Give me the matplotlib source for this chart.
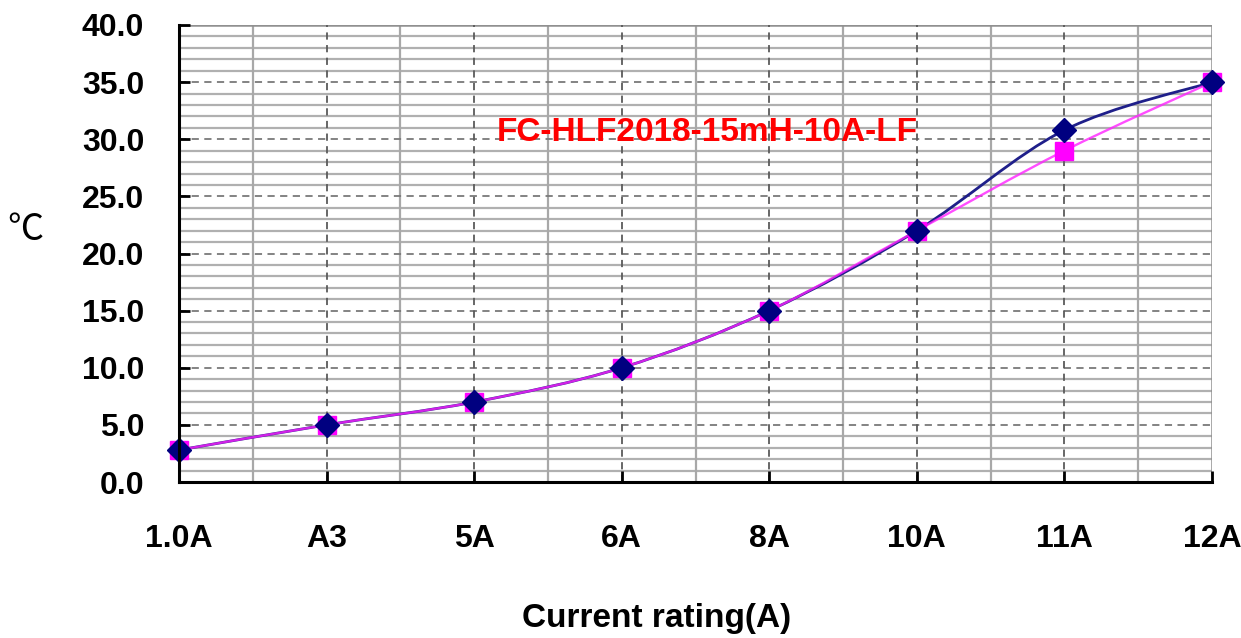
import numpy as np
import matplotlib.pyplot as plt
from matplotlib.path import Path
from matplotlib.patches import PathPatch

plt.rcParams['font.family'] = ['Liberation Sans', 'DejaVu Sans']

categories = ["1.0A", "A3", "5A", "6A", "8A", "10A", "11A", "12A"]
temp_a = [2.8, 5.0, 7.0, 10.0, 15.0, 22.0, 30.8, 35.0]
temp_b = [2.8, 5.0, 7.0, 10.0, 15.0, 22.0, 29.0, 35.0]
y_ticks = [0, 5, 10, 15, 20, 25, 30, 35, 40]
y_labels = [f"{v:.1f}" for v in y_ticks]
chart_title = "FC-HLF2018-15mH-10A-LF"


def smooth_path(xs, ys):
    # Excel 式の平滑線 (Catmull-Rom を3次ベジェで描く)
    pts = np.column_stack([xs, ys]).astype(float)
    n = len(pts)
    verts = [pts[0]]
    codes = [Path.MOVETO]
    for i in range(n - 1):
        p0 = pts[max(i - 1, 0)]
        p1 = pts[i]
        p2 = pts[i + 1]
        p3 = pts[min(i + 2, n - 1)]
        c1 = p1 + (p2 - p0) / 6.0
        c2 = p2 - (p3 - p1) / 6.0
        verts += [c1, c2, p2]
        codes += [Path.CURVE4] * 3
    return Path(verts, codes)


fig = plt.figure(figsize=(12.41, 6.38), dpi=100)
ax = fig.add_axes([179 / 1241, 1 - 482 / 638, 1033 / 1241, 457 / 638])

x = np.arange(len(categories))

# グリッド
for v in np.arange(1, 40, 1):
    if v % 5 == 0:
        continue
    ax.axhline(v, color="#b0b0b0", lw=1.6, zorder=1)
for v in y_ticks[1:-1]:
    ax.axhline(v, color="#7a7a7a", lw=1.3, ls=(0, (4, 3)), zorder=1.5)
ax.axhline(40, color="#909090", lw=1.8, zorder=1.5)
for v in x[:-1] + 0.5:
    ax.axvline(v, color="#a8a8a8", lw=1.6, zorder=1)
for v in x[1:-1]:
    ax.axvline(v, color="#5a5a5a", lw=1.3, ls=(0, (4, 3)), zorder=1.5)
ax.axvline(x[-1], color="#909090", lw=1.8, zorder=1.5)

ax.add_patch(PathPatch(smooth_path(x, temp_a), facecolor="none",
                       edgecolor="#1f1f8a", lw=2.0, zorder=3))
ax.add_patch(PathPatch(smooth_path(x, temp_b), facecolor="none",
                       edgecolor="#ff22ff", lw=1.7, alpha=0.8, zorder=3.2))
ax.plot(x, temp_b, ls="none", marker="s", ms=13.5, color="#ff00ff",
        mec="#ff00ff", zorder=4, clip_on=False)
ax.plot(x, temp_a, ls="none", marker="D", ms=12, color="#000080",
        mec="#000080", zorder=5, clip_on=False)

ax.set_xlim(0, 7)
ax.set_ylim(0, 40)
ax.set_xticks(x)
ax.set_xticklabels(categories)
ax.set_yticks(y_ticks)
ax.set_yticklabels(y_labels)
ax.tick_params(axis="both", direction="in", length=8, width=2,
               labelsize=23, colors="black")
ax.tick_params(axis="x", pad=30)
ax.tick_params(axis="y", pad=25)
for lab in ax.get_xticklabels() + ax.get_yticklabels():
    lab.set_fontweight("bold")

for side in ("top", "right"):
    ax.spines[side].set_visible(False)
for side in ("left", "bottom"):
    ax.spines[side].set_linewidth(2.2)
    ax.spines[side].set_color("black")
    ax.spines[side].set_zorder(6)

ax.text(0.511, 0.764, chart_title, transform=ax.transAxes, color="#ff0000",
        fontsize=24, fontweight="bold", ha="center", va="center", zorder=6)

fig.text(657 / 1241, 1 - 618 / 638, "Current rating(A)", fontsize=24,
         fontweight="bold", ha="center", va="center")
fig.text(25 / 1241, 1 - 230 / 638, "℃", fontsize=26,
         family=["Noto Sans CJK SC", "DejaVu Sans"], ha="center", va="center")

fig.savefig("out.png", dpi=100)
